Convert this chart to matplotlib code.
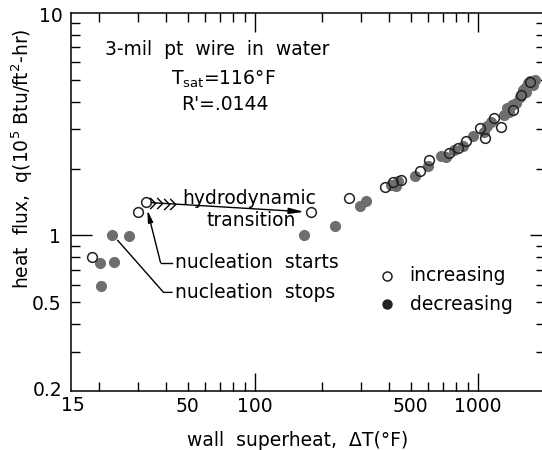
import numpy as np
import matplotlib
matplotlib.use("Agg")
import matplotlib.pyplot as plt
from matplotlib.path import Path

plt.rcParams['font.family'] = ['DejaVu Sans']
plt.rcParams['mathtext.default'] = 'regular'

# ---- data ----
inc_x = [18.7, 30.0, 32.4, 178.8, 264, 384, 418, 454, 551, 603, 745, 815, 889,
         1025, 1081, 1181, 1268, 1436, 1567, 1713]
inc_y = [0.803, 1.276, 1.41, 1.272, 1.47, 1.652, 1.734, 1.781, 1.941, 2.19, 2.345,
         2.47, 2.646, 3.034, 2.737, 3.365, 3.087, 3.665, 4.28, 4.91]

dec_x = [20.3, 20.5, 22.9, 23.4, 27.4, 166.5, 229, 297, 316, 408, 430, 438, 523,
         596, 682, 720, 785, 859, 955, 1062, 1100, 1140, 1313, 1350, 1385, 1420,
         1486, 1540, 1600, 1626, 1650, 1682, 1720, 1762, 1800]
dec_y = [0.749, 0.593, 1.0, 0.76, 0.993, 1.0, 1.101, 1.353, 1.435, 1.692, 1.663,
         1.751, 1.857, 2.044, 2.266, 2.25, 2.427, 2.529, 2.786, 2.933, 3.1, 3.25,
         3.48, 3.75, 3.603, 3.85, 3.927, 4.206, 4.5, 4.585, 4.4, 4.83, 4.95, 4.745, 5.0]

x_ticks = [20, 30, 40, 50, 60, 70, 80, 90, 100, 200, 300, 400, 500, 600, 700, 800, 900, 1000]
x_labels = {50: '50', 100: '100', 500: '500', 1000: '1000'}
y_ticks = [0.3, 0.4, 0.5, 0.6, 0.7, 0.8, 0.9, 1, 2, 3, 4, 5, 6, 7, 8, 9]
y_labels = {0.5: '0.5', 1: '1'}

W, H = 542, 450
fig = plt.figure(figsize=(W / 100, H / 100), dpi=100)
ax = fig.add_axes([71 / W, (H - 391) / H, (545 - 71) / W, (391 - 13) / H])
ax.set_xscale('log')
ax.set_yscale('log')
ax.set_xlim(15, 2000)
ax.set_ylim(0.2, 10)

FS = 13.5
gray = '#6e6e6e'

# filled (decreasing)
ax.plot(dec_x, dec_y, 'o', ms=7, mfc=gray, mec=gray, mew=1, zorder=3)
# open (increasing)
ax.plot(inc_x, inc_y, 'o', ms=7, mfc='none', mec='#222222', mew=1.1, zorder=4)

# ticks
ax.xaxis.set_major_locator(matplotlib.ticker.FixedLocator(x_ticks))
ax.xaxis.set_minor_locator(matplotlib.ticker.NullLocator())
ax.set_xticklabels([x_labels.get(t, '') for t in x_ticks])
ax.yaxis.set_major_locator(matplotlib.ticker.FixedLocator(y_ticks))
ax.yaxis.set_minor_locator(matplotlib.ticker.NullLocator())
ax.set_yticklabels([y_labels.get(t, '') for t in y_ticks])
ax.tick_params(axis='both', which='major', direction='in', length=6.5, width=1,
               top=True, right=True, labelsize=FS)
ax.tick_params(axis='x', pad=4)
ax.tick_params(axis='y', pad=7)
for t, tk in zip(x_ticks, ax.xaxis.get_major_ticks()):
    if t in (100, 1000):
        tk.tick1line.set_markersize(13)
        tk.tick2line.set_markersize(14)
for t, tk in zip(y_ticks, ax.yaxis.get_major_ticks()):
    if t == 1:
        tk.tick1line.set_markersize(15)
        tk.tick2line.set_markersize(11)

# corner labels
ax.text(-0.018, 0.0, '0.2', transform=ax.transAxes, ha='right', va='center', fontsize=FS)
ax.text(0.004, -0.012, '15', transform=ax.transAxes, ha='center', va='top', fontsize=FS)
ax.text(-0.018, 0.99, '10', transform=ax.transAxes, ha='right', va='center', fontsize=FS)

for s in ax.spines.values():
    s.set_linewidth(1.1)

ax.set_xlabel('wall  superheat,  ΔT(°F)', fontsize=FS)
ax.xaxis.set_label_coords(0.478, -0.105)
ax.set_ylabel('heat  flux,  q(10$^5$ Btu/ft$^2$-hr)', fontsize=FS)
ax.yaxis.set_label_coords(-0.075, 0.615)

# info text
ax.text(68, 6.84, '3-mil  pt  wire  in  water', ha='center', va='center', fontsize=FS)
ax.text(72, 5.02, 'T$_{sat}$=116°F', ha='center', va='center', fontsize=FS)
ax.text(73.3, 3.88, "R'=.0144", ha='center', va='center', fontsize=FS)

# hydrodynamic transition arrow
x0, y0 = inc_x[2], inc_y[2]
x1, y1 = inc_x[3], inc_y[3]
ax.annotate('', xy=(x1, y1), xytext=(x0, y0),
            arrowprops=dict(arrowstyle='-|>,head_length=0.9,head_width=0.18',
                            color='black', lw=1.0, shrinkA=4, shrinkB=5), zorder=5)
chev = Path([(-0.6, 1.0), (0.4, 0.0), (-0.6, -1.0)],
            [Path.MOVETO, Path.LINETO, Path.LINETO])
for cx in [35.0, 37.6, 40.2, 42.8]:
    f = (np.log(cx) - np.log(x0)) / (np.log(x1) - np.log(x0))
    cy = np.exp(np.log(y0) + f * (np.log(y1) - np.log(y0)))
    ax.plot([cx], [cy], marker=chev, ms=8, mfc='none', mec='black', mew=1.0, zorder=5)
ax.text(94.5, 1.47, 'hydrodynamic', ha='center', va='center', fontsize=FS)
ax.text(96, 1.17, 'transition', ha='center', va='center', fontsize=FS)

# nucleation starts
ax.plot([42.5, 37.8], [0.755, 0.755], color='black', lw=1.0)
ax.annotate('', xy=(33.0, 1.30), xytext=(37.8, 0.755),
            arrowprops=dict(arrowstyle='-|>,head_length=0.7,head_width=0.15',
                            color='black', lw=1.0, shrinkA=0, shrinkB=0))
ax.text(43.8, 0.755, 'nucleation  starts', ha='left', va='center', fontsize=FS)

# nucleation stops
ax.plot([42.5, 39.0, 24.3], [0.555, 0.555, 0.95], color='black', lw=1.0, zorder=2)
ax.text(43.8, 0.555, 'nucleation  stops', ha='left', va='center', fontsize=FS)

# legend
ax.plot([390], [0.658], 'o', ms=6.5, mfc='none', mec='#222222', mew=1.1)
ax.plot([390], [0.491], 'o', ms=6.5, mfc='#222222', mec='#222222')
ax.text(495, 0.658, 'increasing', ha='left', va='center', fontsize=FS)
ax.text(495, 0.491, 'decreasing', ha='left', va='center', fontsize=FS)

fig.savefig('out.png', dpi=100)
